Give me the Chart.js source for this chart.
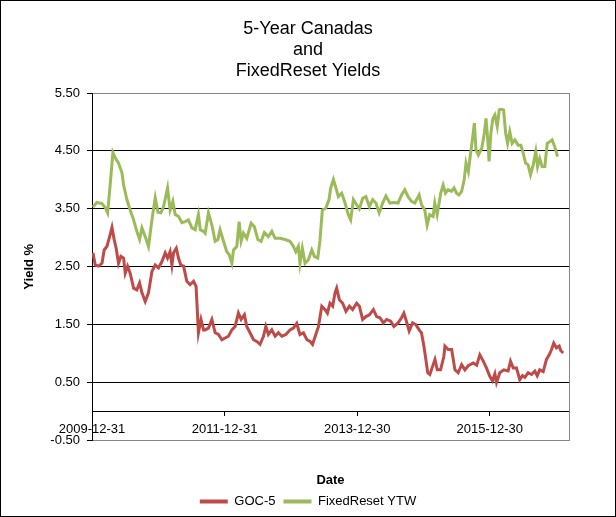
<!DOCTYPE html>
<html lang="en">
<head>
<meta charset="UTF-8">
<title>5-Year Canadas and FixedReset Yields</title>
<script src="https://cdn.jsdelivr.net/npm/chart.js"></script>
<style>
    body { margin: 0; background: #fff; }
    #frame { width: 616px; height: 517px; box-sizing: border-box; border: 1px solid #000; }
    canvas { display: block; }
</style>
</head>
<body>
<div id="frame"><canvas id="yieldChart" width="614" height="515"></canvas></div>
<script>
// Axis range and tick labels
const startDate = '2009-12-31';
const endDate = '2017-03-10';
const tickDates = ['2009-12-31', '2011-12-31', '2013-12-30', '2015-12-30'];
const yTicks = [-0.5, 0.5, 1.5, 2.5, 3.5, 4.5, 5.5];
const titleLines = ['5-Year Canadas', 'and', 'FixedReset Yields'];

// GOC-5 (5-year Canada yield)
const goc5Dates = [
    '2010-01-05','2010-01-18','2010-02-05','2010-02-24','2010-03-08','2010-03-23','2010-04-07','2010-04-20',
    '2010-05-02','2010-05-13','2010-05-26','2010-06-08','2010-06-23','2010-07-02','2010-07-15','2010-07-29',
    '2010-08-17','2010-09-04','2010-09-19','2010-10-02','2010-10-20','2010-11-07','2010-11-26','2010-12-14',
    '2011-01-01','2011-01-20','2011-02-07','2011-02-20','2011-03-06','2011-03-16','2011-03-25','2011-04-09',
    '2011-04-21','2011-05-04','2011-05-19','2011-06-06','2011-06-24','2011-07-13','2011-07-27','2011-08-09',
    '2011-08-23','2011-09-06','2011-09-15','2011-10-03','2011-10-22','2011-11-09','2011-11-27','2011-12-16',
    '2012-01-03','2012-01-21','2012-02-09','2012-02-27','2012-03-16','2012-03-31','2012-04-18','2012-05-01',
    '2012-05-19','2012-06-07','2012-06-25','2012-07-13','2012-08-01','2012-08-14','2012-08-28','2012-09-16',
    '2012-10-04','2012-10-22','2012-11-10','2012-12-02','2012-12-25','2013-01-13','2013-01-31','2013-02-18',
    '2013-03-09','2013-03-28','2013-04-15','2013-04-28','2013-05-13','2013-05-31','2013-06-18','2013-07-06',
    '2013-07-19','2013-08-02','2013-08-17','2013-08-30','2013-09-08','2013-09-23','2013-10-11','2013-10-29',
    '2013-11-17','2013-12-05','2013-12-27','2014-01-11','2014-01-29','2014-02-16','2014-03-07','2014-03-29',
    '2014-04-16','2014-05-04','2014-05-23','2014-06-10','2014-07-02','2014-07-20','2014-08-12','2014-08-31',
    '2014-09-13','2014-09-24','2014-10-12','2014-10-31','2014-11-18','2014-12-06','2014-12-19','2015-01-01',
    '2015-01-12','2015-01-22','2015-02-03','2015-02-18','2015-03-03','2015-03-16','2015-04-03','2015-04-21',
    '2015-04-27','2015-05-15','2015-06-03','2015-06-21','2015-07-09','2015-07-28','2015-08-15','2015-09-02',
    '2015-09-30','2015-10-19','2015-11-05','2015-11-24','2015-12-12','2015-12-30','2016-01-14','2016-01-27',
    '2016-02-05','2016-02-23','2016-03-16','2016-04-09','2016-04-22','2016-05-07','2016-05-25','2016-06-12',
    '2016-06-27','2016-07-10','2016-07-28','2016-08-16','2016-09-03','2016-09-16','2016-09-30','2016-10-19',
    '2016-11-06','2016-11-21','2016-12-04','2016-12-16','2016-12-31','2017-01-15','2017-01-24','2017-02-06'
];
const goc5Yields = [
    2.74, 2.53, 2.51, 2.56, 2.79, 2.85, 3.02, 3.18,
    2.97, 2.82, 2.56, 2.68, 2.65, 2.39, 2.51, 2.39,
    2.13, 2.10, 2.22, 2.05, 1.90, 2.05, 2.42, 2.53,
    2.48, 2.59, 2.74, 2.65, 2.76, 2.53, 2.74, 2.82,
    2.65, 2.53, 2.51, 2.25, 2.19, 2.25, 2.16, 1.36,
    1.59, 1.41, 1.41, 1.44, 1.59, 1.36, 1.33, 1.24,
    1.27, 1.30, 1.41, 1.47, 1.70, 1.59, 1.67, 1.47,
    1.36, 1.24, 1.21, 1.16, 1.30, 1.47, 1.33, 1.41,
    1.30, 1.36, 1.30, 1.33, 1.41, 1.44, 1.52, 1.33,
    1.36, 1.24, 1.21, 1.16, 1.30, 1.47, 1.82, 1.76,
    1.70, 1.87, 1.82, 2.05, 2.13, 1.93, 1.87, 1.73,
    1.82, 1.76, 1.87, 1.82, 1.59, 1.64, 1.67, 1.76,
    1.64, 1.62, 1.53, 1.59, 1.56, 1.47, 1.53, 1.62,
    1.70, 1.59, 1.39, 1.53, 1.50, 1.41, 1.36, 1.13,
    0.90, 0.67, 0.64, 0.78, 0.90, 0.72, 0.72, 0.95,
    1.13, 1.07, 1.07, 0.72, 0.67, 0.81, 0.72, 0.79,
    0.84, 0.80, 0.98, 0.87, 0.75, 0.61, 0.53, 0.65,
    0.50, 0.67, 0.72, 0.70, 0.87, 0.75, 0.75, 0.55,
    0.62, 0.59, 0.67, 0.64, 0.70, 0.62, 0.72, 0.69,
    0.90, 0.98, 1.07, 1.18, 1.10, 1.13, 1.05, 1.01
];

// FixedReset YTW
const frDates = [
    '2010-01-05','2010-01-27','2010-02-24','2010-03-14','2010-03-27','2010-04-11','2010-04-25','2010-05-08',
    '2010-05-26','2010-06-14','2010-06-23','2010-07-11','2010-07-29','2010-08-17','2010-09-04','2010-09-19',
    '2010-10-02','2010-10-20','2010-11-07','2010-11-26','2010-12-14','2010-12-29','2011-01-14','2011-01-29',
    '2011-02-20','2011-03-06','2011-03-21','2011-04-03','2011-04-21','2011-05-10','2011-05-28','2011-06-15',
    '2011-07-04','2011-07-22','2011-08-09','2011-08-19','2011-09-06','2011-09-15','2011-10-03','2011-10-22',
    '2011-11-09','2011-11-24','2011-12-06','2011-12-25','2012-01-12','2012-01-25','2012-02-09','2012-02-18',
    '2012-03-07','2012-03-20','2012-03-31','2012-04-13','2012-05-01','2012-05-25','2012-06-12','2012-07-01',
    '2012-07-19','2012-08-06','2012-08-28','2012-09-16','2012-10-04','2012-10-31','2012-11-28','2012-12-25',
    '2013-01-13','2013-01-26','2013-02-09','2013-02-18','2013-03-03','2013-03-18','2013-04-05','2013-04-24',
    '2013-05-08','2013-05-27','2013-06-08','2013-06-21','2013-07-10','2013-07-28','2013-08-06','2013-08-21',
    '2013-09-04','2013-09-17','2013-10-06','2013-10-24','2013-11-11','2013-11-24','2013-12-09','2013-12-27',
    '2014-01-11','2014-01-29','2014-02-16','2014-03-07','2014-03-25','2014-04-12','2014-04-30','2014-05-19',
    '2014-06-06','2014-06-28','2014-07-20','2014-08-12','2014-08-31','2014-09-18','2014-10-06','2014-10-25',
    '2014-11-12','2014-12-06','2014-12-19','2015-01-06','2015-01-19','2015-02-02','2015-02-21','2015-03-02',
    '2015-03-15','2015-04-04','2015-04-17','2015-04-30','2015-05-14','2015-06-02','2015-06-16','2015-06-30',
    '2015-07-13','2015-07-28','2015-08-11','2015-08-21','2015-09-03','2015-09-14','2015-09-25','2015-10-06',
    '2015-10-15','2015-10-28','2015-11-16','2015-11-30','2015-12-09','2015-12-19','2015-12-26','2016-01-05',
    '2016-01-16','2016-01-27','2016-02-09','2016-02-20','2016-03-04','2016-03-15','2016-03-26','2016-04-06',
    '2016-04-18','2016-05-01','2016-05-16','2016-06-03','2016-06-18','2016-07-01','2016-07-14','2016-07-28',
    '2016-08-10','2016-08-25','2016-09-08','2016-09-18','2016-09-30','2016-10-13','2016-10-28','2016-11-10',
    '2016-11-24','2016-12-07','2016-12-22','2017-01-06'
];
const frYields = [
    3.53, 3.61, 3.59, 3.52, 3.43, 3.95, 4.47, 4.38,
    4.29, 4.12, 3.91, 3.66, 3.48, 3.31, 3.11, 2.97,
    3.17, 3.02, 2.85, 3.31, 3.69, 3.44, 3.43, 3.54,
    3.86, 3.48, 3.63, 3.40, 3.37, 3.26, 3.28, 3.31,
    3.17, 3.14, 3.40, 3.14, 3.11, 3.08, 3.43, 3.22,
    2.94, 2.97, 3.14, 2.94, 2.76, 2.71, 2.56, 2.79,
    2.85, 3.28, 2.94, 3.08, 2.99, 3.25, 3.19, 2.97,
    2.94, 3.09, 3.02, 3.11, 2.99, 2.99, 2.97, 2.94,
    2.85, 2.76, 2.85, 2.56, 2.82, 2.56, 2.62, 2.79,
    2.68, 2.65, 2.95, 3.48, 3.51, 3.66, 3.86, 4.01,
    3.86, 3.71, 3.77, 3.60, 3.40, 3.31, 3.66, 3.57,
    3.50, 3.68, 3.71, 3.54, 3.66, 3.60, 3.43, 3.60,
    3.72, 3.60, 3.61, 3.60, 3.74, 3.83, 3.71, 3.63,
    3.60, 3.74, 3.57, 3.48, 3.22, 3.40, 3.37, 3.60,
    3.40, 3.77, 3.91, 3.77, 3.83, 3.80, 3.86, 3.77,
    3.74, 3.80, 4.00, 4.29, 4.14, 4.43, 4.69, 4.98,
    4.52, 4.43, 4.55, 4.81, 5.06, 4.69, 4.32, 4.81,
    5.06, 5.12, 4.92, 5.21, 5.22, 5.21, 4.81, 4.63,
    4.83, 4.63, 4.69, 4.60, 4.60, 4.46, 4.29, 4.26,
    4.09, 4.26, 4.49, 4.23, 4.37, 4.23, 4.23, 4.63,
    4.66, 4.69, 4.57, 4.40
];

// days since the first axis date
function dayOffset(s) {
    return (Date.parse(s) - Date.parse(startDate)) / 86400000;
}

function toPoints(dates, values) {
    return dates.map((d, i) => ({ x: dayOffset(d), y: values[i] }));
}

Chart.defaults.font.family = '"Liberation Sans", Arial, sans-serif';
Chart.defaults.color = '#000';

const ctx = document.getElementById('yieldChart').getContext('2d');
new Chart(ctx, {
    type: 'line',
    data: {
        datasets: [{
            label: 'GOC-5',
            data: toPoints(goc5Dates, goc5Yields),
            borderColor: '#BE4B48',
            backgroundColor: '#BE4B48',
            borderWidth: 3,
            pointRadius: 0,
            tension: 0
        }, {
            label: 'FixedReset YTW',
            data: toPoints(frDates, frYields),
            borderColor: '#9BBB59',
            backgroundColor: '#9BBB59',
            borderWidth: 3,
            pointRadius: 0,
            tension: 0
        }]
    },
    options: {
        responsive: false,
        animation: false,
        events: [],
        layout: { padding: { left: 0, right: 0, top: 0, bottom: -2 } },
        plugins: {
            title: {
                display: true,
                text: titleLines,
                color: '#000',
                font: { size: 18, weight: 'normal', lineHeight: 21 / 18 },
                padding: { top: 18, bottom: 11 }
            },
            legend: {
                position: 'bottom',
                labels: {
                    boxWidth: 28,
                    boxHeight: 4,
                    padding: 8,
                    font: { size: 13 },
                    generateLabels: chart => Chart.defaults.plugins.legend.labels.generateLabels(chart)
                        .map(item => Object.assign(item, { lineWidth: 0 }))
                }
            },
            tooltip: { enabled: false }
        },
        scales: {
            x: {
                type: 'linear',
                position: { y: 0 },
                min: 0,
                max: dayOffset(endDate),
                afterBuildTicks: scale => {
                    scale.ticks = tickDates.map(d => ({ value: dayOffset(d) }));
                },
                ticks: {
                    autoSkip: false,
                    maxRotation: 0,
                    padding: 6,
                    font: { size: 13 },
                    callback: (value, index) => tickDates[index]
                },
                grid: { drawOnChartArea: false, drawTicks: true, tickLength: 4, tickColor: '#000' },
                border: { color: '#000', width: 1 }
            },
            xTitle: {
                type: 'linear',
                position: 'bottom',
                ticks: { display: false },
                grid: { display: false, drawTicks: false },
                border: { display: false },
                title: {
                    display: true,
                    text: 'Date',
                    font: { size: 13, weight: 'bold', lineHeight: 1.05 },
                    padding: 0
                },
                afterFit: scale => { scale.height = 46.5; }
            },
            y: {
                min: -0.5,
                max: 5.5,
                afterBuildTicks: scale => {
                    scale.ticks = yTicks.map(v => ({ value: v }));
                },
                ticks: {
                    padding: 7,
                    font: { size: 13 },
                    callback: value => value.toFixed(2)
                },
                grid: {
                    color: c => (c.tick && (c.tick.value === -0.5 || c.tick.value === 5.5)) ? '#868686' : '#000',
                    tickLength: 5,
                    tickColor: '#000'
                },
                border: { color: '#000', width: 1 },
                title: {
                    display: true,
                    text: 'Yield %',
                    font: { size: 13, weight: 'bold' },
                    padding: { top: 21, bottom: 0 }
                },
                afterFit: scale => { scale.width = 91; }
            },
            yEdge: {
                type: 'linear',
                position: 'right',
                ticks: { display: false },
                grid: { display: false, drawTicks: false },
                border: { color: '#868686', width: 1 },
                afterFit: scale => { scale.width = 46; }
            }
        }
    }
});
</script>
</body>
</html>
